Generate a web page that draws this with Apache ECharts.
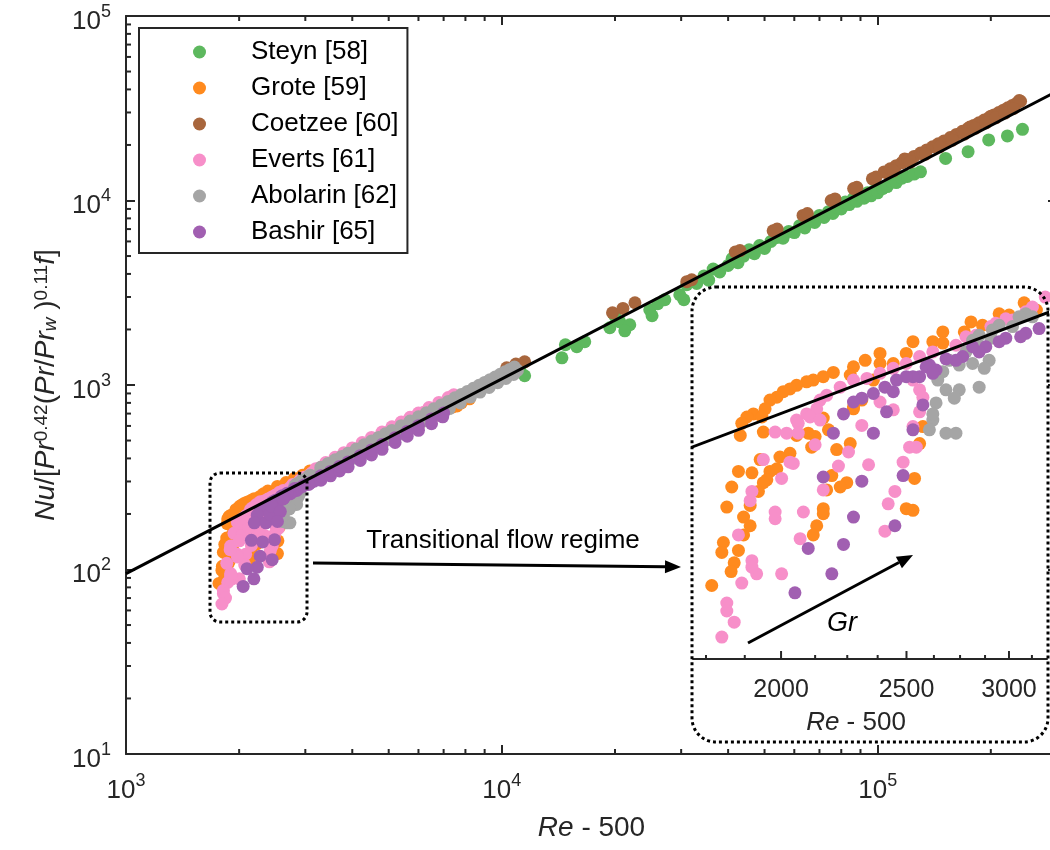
<!DOCTYPE html>
<html>
<head>
<meta charset="utf-8">
<script src="https://cdn.jsdelivr.net/npm/echarts@6.0.0/dist/echarts.min.js"></script>
<style>
html,body{margin:0;padding:0;background:#ffffff;}
#chart{width:1050px;height:850px;}
</style>
</head>
<body>
<div id="chart"></div>
<script>
// ---------------- DATA ----------------
const seriesNames = ['Steyn [58]', 'Grote [59]', 'Coetzee [60]', 'Everts [61]', 'Abolarin [62]', 'Bashir [65]'];
const seriesColors = ['#5db85e', '#ff8a1e', '#a8663d', '#f78fc9', '#a5a5a5', '#a15fb1'];

// x = Re - 500, y = Nu/[Pr^0.42 (Pr/Pr_w)^0.11 f]
const steyn = [[11170,1209],[11500,1122],[14450,1404],[14760,1652],[15830,1612],[16620,1715],[19380,2043],[20600,2201],[21900,2121],[19970,2373],[21240,1967],[24750,2557],[26000,2756],[27140,2897],[25100,2373],[29750,3085],[31050,3495],[30500,2897],[33000,3550],[34500,3900],[35500,3700],[36500,4250],[38000,4100],[40000,4450],[41000,4850],[42500,4600],[44000,5000],[45500,5400],[47000,5150],[48500,5700],[50000,5500],[52000,6000],[54000,6300],[56000,6250],[58000,6800],[60000,6700],[62000,7300],[64000,7100],[66000,7700],[68000,7600],[70000,8300],[72000,8100],[74000,8700],[76000,8500],[78000,9200],[80000,9000],[82000,9800],[84000,9500],[86000,10200],[88000,9900],[90000,10600],[92000,10300],[94000,11000],[96000,10600],[98000,11300],[100000,11000],[103000,11600],[106000,11900],[109000,12600],[112000,12500],[116000,13200],[120000,13500],[125000,13900],[130000,14300],[151600,16900],[174000,18400],[197400,21300],[221400,22400],[242800,24300]];

const grote = [[3082,342],[2948,324],[3001,322],[2804,311],[2862,306],[2667,296],[2771,296],[2529,282],[2620,282],[2667,280],[2385,266],[2499,266],[2323,257],[2385,253],[2275,249],[2262,239],[2195,242],[2156,237],[2118,233],[2093,231],[2056,227],[2032,223],[2008,220],[1985,214],[1961,211],[1944,202],[1904,197],[1882,194],[1865,188],[1933,194],[1938,180],[1860,177],[2099,179],[2056,177],[2156,193],[2275,202],[2176,182],[2262,170],[2208,165],[2125,176],[2112,167],[2032,162],[1996,159],[1927,157],[1854,148],[1899,147],[1961,148],[1985,150],[1950,142],[1938,140],[1832,137],[1921,134],[1893,125],[1816,124],[1871,118],[1893,113],[1871,108],[1805,104],[1800,99],[1854,100],[1840,94],[1830,90],[1768,84],[2189,145],[2169,135],[2248,140],[2222,137],[2156,123],[2156,120],[2131,113],[2118,108],[2536,143],[2499,123],[2529,122],[2559,170],[2574,185],[2442,253],[2357,233],[2309,211],[2275,204],[3150,330],[3250,335],[3350,345],[3500,362],[3700,380],[3900,400],[4100,420],[4400,452],[4700,482],[5000,515],[5400,555],[5800,595],[6200,640],[6600,680],[7000,722],[7400,760],[7800,800],[8200,842],[3300,352],[3600,372],[4000,413],[4600,465],[5200,528],[6000,610],[6800,690],[7600,770]];

const coetzee = [[10300,1240],[10900,1300],[11500,1336],[19700,2463],[21000,2600],[22600,2791],[31050,3630],[32000,3720],[41800,5260],[43000,5350],[52700,6850],[54000,7000],[63300,8300],[65000,8500],[75200,10000],[77000,10200],[86300,11600],[88000,11800],[96800,13100],[99000,13400],[104000,14290],[106000,14100],[108000,14860],[112000,15450],[116000,16030],[118000,16800],[120000,16610],[125000,17340],[130000,18080],[132000,17900],[135000,18810],[140000,19550],[145000,20280],[150000,21020],[152000,20700],[156000,21920],[162000,22800],[168000,23700],[174000,24590],[176000,25000],[180000,25480],[186000,26380],[192000,27280],[198000,28170],[200000,28600],[204000,29080],[210000,29980],[216000,30880],[222000,31780],[226000,32000],[228000,32690],[234000,33590],[238000,34800],[240000,34500],[110000,14490],[122000,16150],[134000,17830],[146000,19530],[158000,21220],[170000,22920],[182000,24630],[194000,26340],[206000,28060],[218000,29790],[230000,31520]];

const everts = [[3128,335],[2983,316],[3019,314],[2905,304],[2829,291],[2730,277],[2620,268],[2559,262],[2499,253],[2442,247],[2385,241],[2330,235],[2275,233],[2222,225],[2169,216],[2144,211],[2131,202],[2093,197],[2056,191],[2106,194],[2144,191],[2309,186],[2442,201],[2385,209],[2529,233],[2559,222],[2574,214],[2559,199],[2529,185],[2514,167],[2544,167],[2485,155],[2449,134],[2420,126],[2406,110],[2337,153],[2215,152],[2255,163],[2156,135],[2081,121],[2069,106],[1979,121],[1979,117],[2002,89],[1899,134],[1893,128],[1938,157],[2032,155],[2044,154],[2002,143],[1979,180],[2020,179],[2062,188],[2062,179],[2125,169],[1915,89],[1899,95],[1899,92],[1865,85],[1854,108],[1816,77],[1816,74],[1840,70],[1800,65],[2779,289],[2930,309],[3091,327],[3200,352],[3400,380],[3600,406],[3800,430],[4000,456],[4250,488],[4500,520],[4800,556],[5100,594],[5400,630],[5700,668],[6000,705],[6400,755],[6800,805],[7200,855],[7450,885],[3300,358],[3500,378],[3900,420],[4400,482],[5000,560],[5600,638],[6200,712],[7000,790]];

const abolarin = [[3091,324],[3054,319],[3019,304],[2948,306],[2913,299],[2905,287],[2845,291],[2812,284],[2854,275],[2779,268],[2812,253],[2896,257],[2871,247],[2746,251],[2698,257],[2667,243],[2643,233],[2682,222],[2635,208],[2746,222],[2845,225],[2722,213],[2620,191],[2604,182],[2682,179],[2730,179],[2620,197],[3128,319],[3300,345],[3400,335],[3500,366],[3600,352],[3700,390],[3800,378],[3900,410],[4000,400],[4200,448],[4300,425],[4500,478],[4600,460],[4800,512],[5000,505],[5200,558],[5400,545],[5600,602],[5800,590],[6000,648],[6250,640],[6500,704],[6750,695],[7000,760],[7250,745],[7500,818],[7750,800],[8000,875],[8250,860],[8500,932],[8750,915],[9000,990],[9250,970],[9500,1045],[9750,1030],[10000,1100],[10250,1085],[10500,1155],[10750,1140],[11000,1200],[3300,358],[3450,376],[3600,393],[3750,410],[3900,427],[4100,450],[4300,474],[4500,497],[4700,520],[4900,544],[5100,567],[5400,602],[5700,638],[6000,673],[6300,708],[6600,744],[6900,780],[7200,815],[7500,852],[7800,887],[8100,923],[8400,960],[8700,996],[9000,1033],[9300,1069],[9600,1105],[9900,1142],[10200,1178],[10500,1214],[10800,1250]];

const bashir = [[3165,301],[3091,294],[3063,289],[2983,287],[2948,282],[2879,275],[2845,268],[2812,275],[2763,262],[2730,257],[2682,259],[2635,245],[2604,251],[2559,237],[2529,237],[2499,237],[2456,233],[2406,225],[2357,218],[2309,213],[2275,209],[2235,197],[2195,179],[2357,179],[2413,199],[2442,220],[2574,206],[2529,182],[2485,145],[2156,144],[2309,141],[2275,118],[2449,113],[2235,103],[2099,101],[2189,89],[2050,81],[2589,249],[2620,241],[3300,305],[3300,322],[3500,322],[3500,340],[3700,342],[3700,362],[3900,360],[3900,383],[4200,390],[4200,414],[4500,418],[4500,445],[4800,448],[4800,476],[5200,488],[5200,518],[5600,528],[5600,560],[6000,568],[6000,602],[6500,617],[6500,655],[6960,672],[7000,705]];

// correlation line (two end points)
const correlationLine = [[1000,95],[300000,39070]];

// axis ranges and tick values
const mainXRange = [1000, 300000];
const mainYRange = [10, 100000];
const insetXRange = [1710, 3210];
const insetYRange = [58.3, 370];
const xMinorTicks = [2000,3000,4000,5000,6000,7000,8000,9000,20000,30000,40000,50000,60000,70000,80000,90000,200000];
const yMinorTicks = [20,30,40,50,60,70,80,90,200,300,400,500,600,700,800,900,2000,3000,4000,5000,6000,7000,8000,9000,20000,30000,40000,50000,60000,70000,80000,90000];
const insetMajorTicks = [2000, 2500, 3000];
const insetMinorTicks = [1750, 1875, 2125, 2250, 2375, 2625, 2750, 2875, 3125];

// ---------------- CHART ----------------
const FONT = '"Liberation Sans", Arial, Helvetica, sans-serif';
const AX = '#262626';
const chart = echarts.init(document.getElementById('chart'), null, {renderer: 'canvas'});

const allData = [steyn, grote, coetzee, everts, abolarin, bashir];

function powLabel(v) {
  const e = Math.log10(v);
  const r = Math.round(e);
  if (Math.abs(e - r) > 1e-6) return '';
  return '{b|10}{s|' + r + '}';
}
const labelRich = {
  b: {fontSize: 26, fontFamily: FONT, color: AX, lineHeight: 26, padding: [11, 0, 0, 0]},
  s: {fontSize: 18, fontFamily: FONT, color: AX, lineHeight: 16, verticalAlign: 'top'}
};
const titleRich = {
  i: {fontStyle: 'italic', fontSize: 28, fontFamily: FONT, color: AX, lineHeight: 28, padding: [8, 0, 8, 0]},
  n: {fontSize: 28, fontFamily: FONT, color: AX, lineHeight: 28, padding: [8, 0, 8, 0]},
  sup: {fontSize: 19, fontFamily: FONT, color: AX, lineHeight: 19, verticalAlign: 'top'},
  sub: {fontStyle: 'italic', fontSize: 19, fontFamily: FONT, color: AX, lineHeight: 19, verticalAlign: 'bottom'}
};

function inInset(d) {
  return d[0] >= insetXRange[0] && d[0] <= insetXRange[1] && d[1] >= insetYRange[0] && d[1] <= insetYRange[1];
}

const baseLine = {color: AX, width: 2};

function logAxis(extra) {
  return Object.assign({
    type: 'log', logBase: 10,
    axisLine: {show: true, onZero: false, lineStyle: baseLine},
    axisTick: {show: true, inside: true, length: 9, lineStyle: {color: AX, width: 2}},
    minorTick: {show: false},
    splitLine: {show: false},
    minorSplitLine: {show: false},
    axisLabel: {show: false},
    nameMoveOverlap: false
  }, extra);
}

const series = [];
allData.forEach((d, i) => {
  series.push({
    type: 'scatter', name: seriesNames[i], xAxisIndex: 0, yAxisIndex: 0,
    data: d, symbol: 'circle', symbolSize: 13,
    itemStyle: {color: seriesColors[i], opacity: 1}, z: 2, silent: true
  });
});
series.push({
  type: 'line', xAxisIndex: 0, yAxisIndex: 0, data: correlationLine,
  symbol: 'none', showSymbol: false, lineStyle: {color: '#000', width: 3}, z: 3, clip: true, silent: true
});
allData.forEach((d, i) => {
  series.push({
    type: 'scatter', name: seriesNames[i], xAxisIndex: 2, yAxisIndex: 2,
    data: d.filter(inInset), symbol: 'circle', symbolSize: 13,
    itemStyle: {color: seriesColors[i], opacity: 1}, z: 6, silent: true
  });
});
series.push({
  type: 'line', xAxisIndex: 2, yAxisIndex: 2, data: correlationLine,
  symbol: 'none', showSymbol: false, lineStyle: {color: '#000', width: 3}, z: 7, clip: true, silent: true
});

// main minor ticks (x: bottom & top)
series.push({
  type: 'custom', xAxisIndex: 0, yAxisIndex: 0, z: 4, silent: true,
  data: xMinorTicks.map(v => [v, mainYRange[0]]),
  renderItem: function (params, api) {
    const cs = params.coordSys;
    const p = api.coord([api.value(0), api.value(1)]);
    const yb = cs.y + cs.height, yt = cs.y;
    return {type: 'group', children: [
      {type: 'line', shape: {x1: p[0], y1: yb, x2: p[0], y2: yb - 5}, style: {stroke: AX, lineWidth: 2}},
      {type: 'line', shape: {x1: p[0], y1: yt, x2: p[0], y2: yt + 5}, style: {stroke: AX, lineWidth: 2}}
    ]};
  }
});
// main minor ticks (y: left & right)
series.push({
  type: 'custom', xAxisIndex: 0, yAxisIndex: 0, z: 4, silent: true,
  data: yMinorTicks.map(v => [mainXRange[0], v]),
  renderItem: function (params, api) {
    const cs = params.coordSys;
    const p = api.coord([api.value(0), api.value(1)]);
    const xl = cs.x, xr = cs.x + cs.width;
    return {type: 'group', children: [
      {type: 'line', shape: {x1: xl, y1: p[1], x2: xl + 5, y2: p[1]}, style: {stroke: AX, lineWidth: 2}},
      {type: 'line', shape: {x1: xr, y1: p[1], x2: xr - 5, y2: p[1]}, style: {stroke: AX, lineWidth: 2}}
    ]};
  }
});
// inset ticks and labels
series.push({
  type: 'custom', xAxisIndex: 2, yAxisIndex: 2, z: 8, silent: true,
  data: insetMajorTicks.map(v => [v, insetYRange[0]]),
  renderItem: function (params, api) {
    const cs = params.coordSys;
    const p = api.coord([api.value(0), api.value(1)]);
    const yb = cs.y + cs.height;
    return {type: 'group', children: [
      {type: 'line', shape: {x1: p[0], y1: yb, x2: p[0], y2: yb - 8}, style: {stroke: AX, lineWidth: 2}},
      {type: 'text', x: p[0], y: yb + 31, style: {text: String(api.value(0)), fontSize: 25, fontFamily: FONT, fill: AX, align: 'center', verticalAlign: 'middle'}}
    ]};
  }
});
series.push({
  type: 'custom', xAxisIndex: 2, yAxisIndex: 2, z: 8, silent: true,
  data: insetMinorTicks.map(v => [v, insetYRange[0]]),
  renderItem: function (params, api) {
    const cs = params.coordSys;
    const p = api.coord([api.value(0), api.value(1)]);
    const yb = cs.y + cs.height;
    return {type: 'line', shape: {x1: p[0], y1: yb, x2: p[0], y2: yb - 4}, style: {stroke: AX, lineWidth: 2}};
  }
});

// annotation arrows
function arrow(x1, y1, x2, y2, head, half) {
  const dx = x2 - x1, dy = y2 - y1, L = Math.sqrt(dx * dx + dy * dy);
  const ux = dx / L, uy = dy / L;
  const bx = x2 - head * ux, by = y2 - head * uy;
  return [
    {type: 'line', z: 30, silent: true, shape: {x1: x1, y1: y1, x2: bx, y2: by}, style: {stroke: '#000', lineWidth: 3}},
    {type: 'polygon', z: 30, silent: true, shape: {points: [[x2, y2], [bx - half * uy, by + half * ux], [bx + half * uy, by - half * ux]]}, style: {fill: '#000'}}
  ];
}
const dotted = {fill: 'none', stroke: '#000', lineWidth: 3, lineDash: [3, 3]};

const graphics = [
  {type: 'rect', z: 30, silent: true, shape: {x: 210, y: 473, width: 97, height: 149, r: 10}, style: dotted},
  {type: 'rect', z: 30, silent: true, shape: {x: 692, y: 287, width: 356, height: 455, r: 24}, style: dotted},
  ...arrow(313, 563, 681, 567, 16, 6.5),
  ...arrow(748, 643, 913, 555, 16, 6.5),
  {type: 'text', z: 30, silent: true, x: 503, y: 541, style: {text: 'Transitional flow regime', fontSize: 26, fontFamily: FONT, fill: '#000', align: 'center', verticalAlign: 'middle'}},
  {type: 'text', z: 30, silent: true, x: 842, y: 623, style: {text: 'Gr', fontSize: 27, fontStyle: 'italic', fontFamily: FONT, fill: '#000', align: 'center', verticalAlign: 'middle'}},
  {type: 'text', z: 30, silent: true, x: 856, y: 723, style: {text: '{i|Re}{n| - 500}', align: 'center', verticalAlign: 'middle',
    rich: {i: {fontStyle: 'italic', fontSize: 26, fontFamily: FONT, fill: AX, color: AX}, n: {fontSize: 26, fontFamily: FONT, fill: AX, color: AX}}}}
];

const option = {
  animation: false,
  backgroundColor: '#ffffff',
  grid: [
    {left: 126, top: 16, width: 931, height: 738, containLabel: false, outerBoundsMode: 'none'},
    {left: 693, top: 287, width: 354, height: 372, containLabel: false, outerBoundsMode: 'none'}
  ],
  xAxis: [
    logAxis({gridIndex: 0, position: 'bottom', min: mainXRange[0], max: mainXRange[1],
      axisLabel: {show: true, formatter: powLabel, margin: 18, rich: labelRich, color: AX, fontSize: 26, fontFamily: FONT},
      name: '{i|Re}{n| - 500}', nameLocation: 'middle', nameGap: 60,
      nameTextStyle: {rich: {i: {fontStyle: 'italic', fontSize: 28, fontFamily: FONT, color: AX}, n: {fontSize: 28, fontFamily: FONT, color: AX}}}}),
    logAxis({gridIndex: 0, position: 'top', min: mainXRange[0], max: mainXRange[1]}),
    logAxis({gridIndex: 1, position: 'bottom', min: insetXRange[0], max: insetXRange[1], axisTick: {show: false}})
  ],
  yAxis: [
    logAxis({gridIndex: 0, position: 'left', min: mainYRange[0], max: mainYRange[1],
      axisLabel: {show: true, formatter: powLabel, margin: 15, rich: labelRich, color: AX, fontSize: 26, fontFamily: FONT},
      name: '{i|Nu}{n|/[}{i|Pr}{sup|0.42}{n|(}{i|Pr}{n|/}{i|Pr}{sub|w}{n| )}{sup|0.11}{i|f}{n|]}',
      nameLocation: 'middle', nameRotate: 90, nameGap: 66, nameTextStyle: {rich: titleRich}}),
    logAxis({gridIndex: 0, position: 'right', min: mainYRange[0], max: mainYRange[1]}),
    logAxis({gridIndex: 1, position: 'left', min: insetYRange[0], max: insetYRange[1], axisLine: {show: false}, axisTick: {show: false}})
  ],
  legend: {
    data: seriesNames, orient: 'vertical', left: 139, top: 28,
    padding: [11, 9, 8, 54], itemGap: 10, itemWidth: 13, itemHeight: 13, icon: 'circle',
    borderColor: AX, borderWidth: 2, backgroundColor: '#ffffff',
    textStyle: {fontSize: 26, fontFamily: FONT, color: '#000', padding: [0, 0, 0, 40]}, selectedMode: false, z: 40
  },
  series: series,
  graphic: {elements: graphics}
};
chart.setOption(option);
</script>
</body>
</html>
